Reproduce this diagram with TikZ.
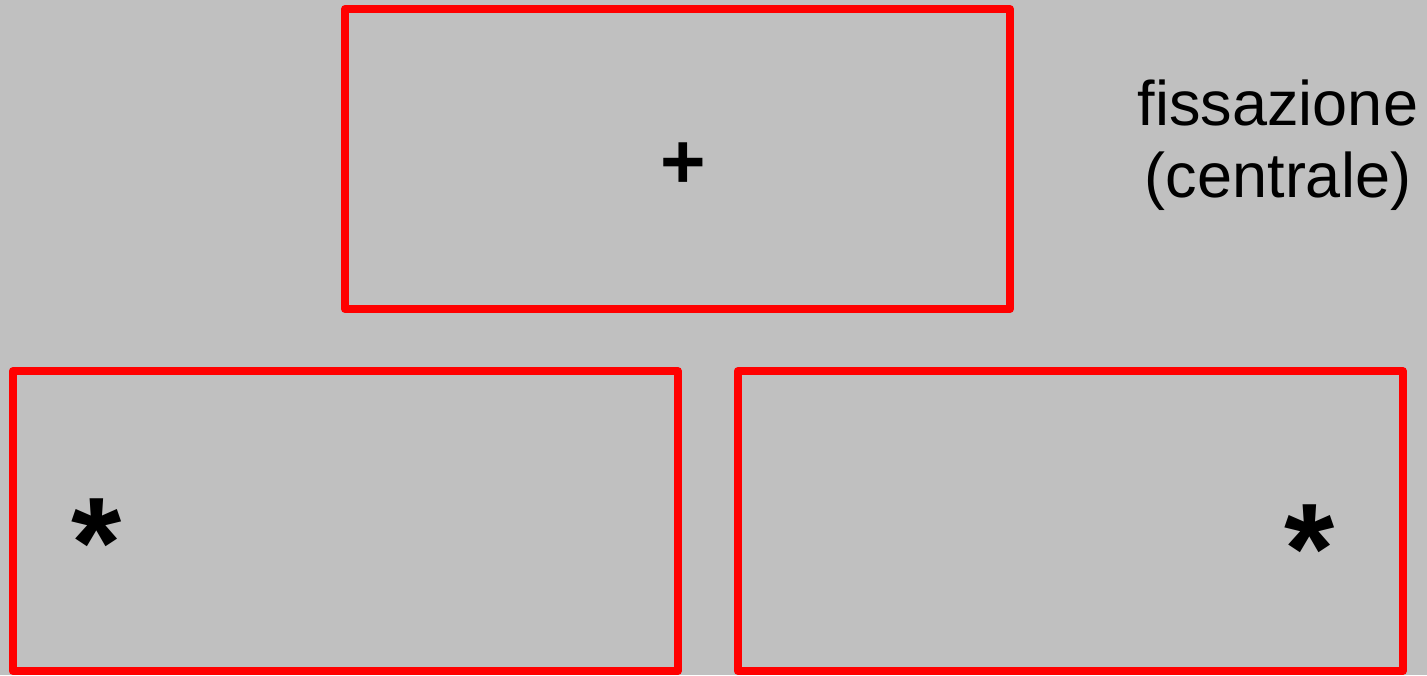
\documentclass[tikz,border=0pt]{standalone}
\usepackage{fontspec}
\setmainfont{Liberation Sans}
\usepackage{xcolor}
\usetikzlibrary{positioning}

\definecolor{screengray}{RGB}{192,192,192}
\definecolor{framered}{RGB}{255,0,0}

\begin{document}
\begin{tikzpicture}[
    x=1pt, y=-1pt,
    screen/.style={draw=framered, line width=8pt, line join=round, minimum width=665pt, minimum height=300pt, inner sep=0pt},
    mark sign/.style={inner sep=0pt, anchor=base, font=\bfseries\fontsize{78}{78}\selectfont},
    target/.style={inner sep=0pt, anchor=base, font=\bfseries\fontsize{129}{129}\selectfont},
    caption/.style={inner sep=0pt, anchor=base, align=center, font=\fontsize{63}{72}\selectfont}
]
\fill[screengray] (0,0) rectangle (1427,675);
\useasboundingbox (0,0) rectangle (1427,675);
% fixation screen and the two target screens
\node[screen] (fix) at (677.5,159) {};
\node[screen] (left) at (345.25,521) {};
\node[screen] (right) at (1070.25,521) {};
\node[mark sign] (cross) at (683,188) {+};
\node[target] (tleft) at (97,587) {*};
\node[target] (tright) at (1310,593) {*};
\node[caption] (label) at (1278,197) {fissazione\\(centrale)};
\end{tikzpicture}
\end{document}
